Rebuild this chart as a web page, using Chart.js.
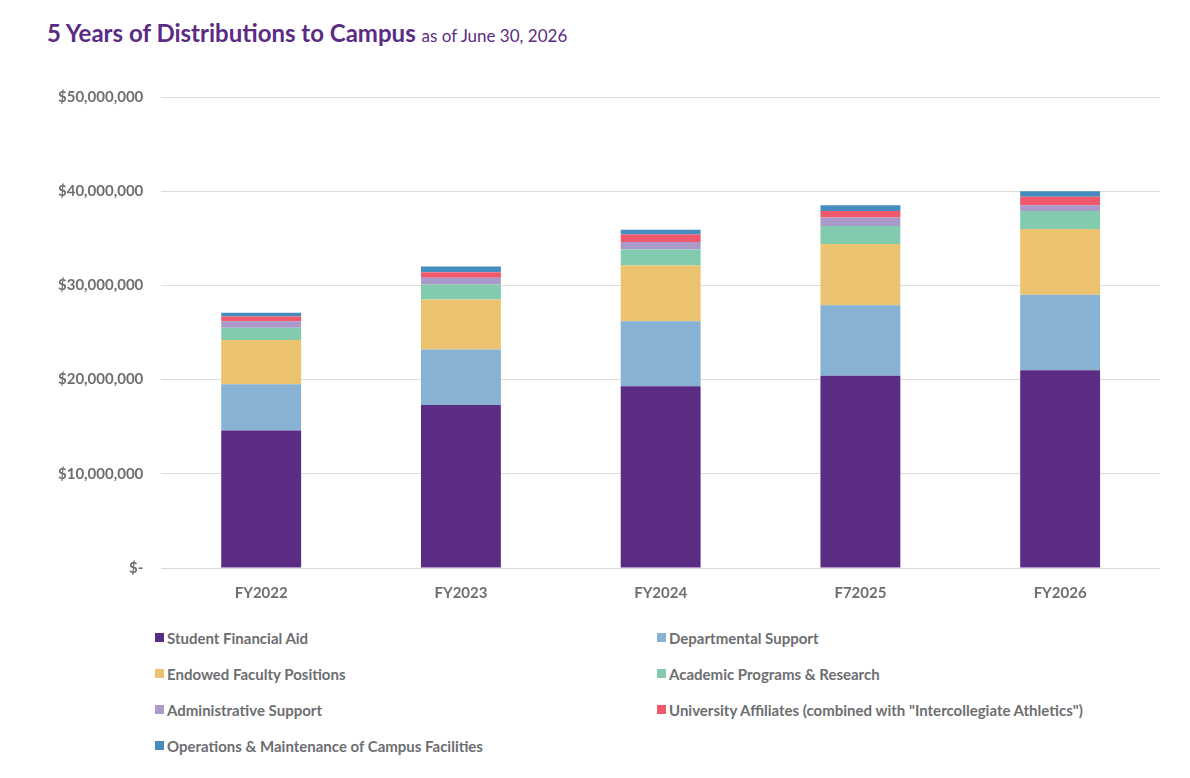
<!DOCTYPE html>
<html>
<head>
<meta charset="utf-8">
<script src="https://cdn.jsdelivr.net/npm/chart.js@4"></script>
<style>
  body { margin: 0; background: #fff; font-family: Lato, "Open Sans", sans-serif; }
  #title { position: absolute; left: 47px; top: 18px; color: #5b2c83; font-size: 24px; font-weight: 700; }
  #title span { font-size: 17px; font-weight: 400; }
  #wrap { position: absolute; left: 0; top: 70px; width: 1160px; height: 540px; }
  #legend { position: absolute; left: 155px; top: 628px; width: 1030px; display: grid; grid-template-columns: 502px 520px; row-gap: 17px; }
  .item { color: #6d6e71; font-size: 15px; font-weight: 700; display: flex; align-items: center; height: 19px; }
  .sw { width: 9px; height: 9px; margin-right: 3px; }
</style>
</head>
<body>
<div id="title">5 Years of Distributions to Campus <span>as of June 30, 2026</span></div>
<div id="wrap"><canvas id="c"></canvas></div>
<div id="legend"></div>
<script>
// ===== Data (millions of dollars) =====
const years = ['FY2022', 'FY2023', 'FY2024', 'F72025', 'FY2026'];
const studentAid   = [14.6, 17.3, 19.3, 20.4, 21.0];
const deptSupport  = [4.9, 5.9, 6.9, 7.5, 8.0];
const facultyPos   = [4.7, 5.3, 5.9, 6.5, 7.0];
const academic     = [1.3, 1.6, 1.7, 1.9, 1.9];
const adminSupport = [0.7, 0.7, 0.8, 0.9, 0.6];
const affiliates   = [0.5, 0.6, 0.8, 0.7, 0.9];
const operations   = [0.4, 0.6, 0.5, 0.6, 0.6];
const yTicks = ['$-', '$10,000,000', '$20,000,000', '$30,000,000', '$40,000,000', '$50,000,000'];

const series = [
  { label: 'Student Financial Aid', data: studentAid, color: '#5b2c83' },
  { label: 'Departmental Support', data: deptSupport, color: '#87b2d3' },
  { label: 'Endowed Faculty Positions', data: facultyPos, color: '#ebc370' },
  { label: 'Academic Programs & Research', data: academic, color: '#83cbae' },
  { label: 'Administrative Support', data: adminSupport, color: '#a99aca' },
  { label: 'University Affiliates (combined with "Intercollegiate Athletics")', data: affiliates, color: '#f0596b' },
  { label: 'Operations & Maintenance of Campus Facilities', data: operations, color: '#458dbd' }
];

// ===== Legend =====
const legend = document.getElementById('legend');
series.forEach(s => {
  const d = document.createElement('div');
  d.className = 'item';
  d.innerHTML = `<span class="sw" style="background:${s.color}"></span>${s.label}`;
  legend.appendChild(d);
});

// ===== Chart =====
new Chart(document.getElementById('c'), {
  type: 'bar',
  data: {
    labels: years,
    datasets: series.map(s => ({
      label: s.label, data: s.data.map(v => v * 1e6), backgroundColor: s.color,
      barPercentage: 0.4, categoryPercentage: 1
    }))
  },
  options: {
    responsive: true, maintainAspectRatio: false, animation: false,
    layout: { padding: { left: 40, top: 12, right: 0 } },
    plugins: { legend: { display: false }, tooltip: { enabled: false } },
    scales: {
      x: {
        stacked: true,
        grid: { display: false },
        border: { color: '#d9d9d9' },
        ticks: { color: '#6d6e71', font: { family: 'Lato', size: 15, weight: 'bold' }, padding: 8 }
      },
      y: {
        stacked: true, min: 0, max: 50e6,
        border: { display: false },
        grid: { color: '#dcdcdc', drawTicks: false },
        ticks: {
          stepSize: 10e6, padding: 18, color: '#6d6e71',
          font: { family: 'Lato', size: 15, weight: 'bold' },
          callback: (v, i) => yTicks[i]
        }
      }
    }
  }
});
</script>
</body>
</html>
